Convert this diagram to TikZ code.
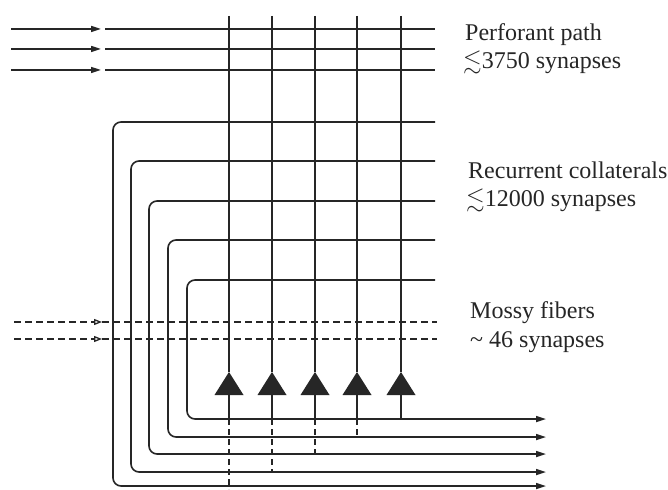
\documentclass[tikz,border=0pt]{standalone}
\usepackage{amsmath,amssymb}
\usepackage{fontspec}
\setmainfont{Liberation Serif}
\usetikzlibrary{arrows.meta,calc}
\definecolor{ink}{HTML}{262626}
\begin{document}
\begin{tikzpicture}[x=1pt,y=-1pt,
  fiber/.style={draw=ink,line width=1.6pt},
  dend/.style={draw=ink,line width=2.8pt},
  mossy/.style={draw=ink,line width=2pt,dash pattern=on 7pt off 4pt},
  axon/.style={draw=ink,line width=1.4pt},
  lab/.style={font=\fontsize{24}{29}\selectfont,anchor=base west,inner sep=0pt,text=ink},
  tip/.style={-{Triangle[length=10pt,width=6pt]}},
  opentip/.style={-{Triangle[open,length=8pt,width=6pt,line width=1.3pt]}}]
\useasboundingbox (0,0) rectangle (668,489);
\fill[white] (0,0) rectangle (668,489);

% perforant path
\foreach \y [count=\i] in {29,49,70}{
  \coordinate (pa\i) at (11,\y);
  \coordinate (pb\i) at (101,\y);
  \coordinate (pc\i) at (105,\y);
  \coordinate (pd\i) at (435,\y);
  \draw[fiber,tip] (pa\i) -- (pb\i);
  \draw[fiber] (pc\i) -- (pd\i);
}

% mossy fibres
\foreach \y [count=\i] in {322,339}{
  \coordinate (ma\i) at (14,\y);
  \coordinate (mb\i) at (102,\y);
  \coordinate (md\i) at (437,\y);
  \draw[mossy,opentip] (ma\i) -- (mb\i);
  \draw[mossy] (mb\i) -- (md\i);
}

% recurrent collateral loops
\foreach \yt/\xv/\yb [count=\i] in {122/113/486,161/131/472,201/149/454,240/168/437,280/187/419}{
  \coordinate (rt\i) at (435,\yt);
  \coordinate (rc\i) at (\xv,\yt);
  \coordinate (rd\i) at (\xv,\yb);
  \coordinate (ro\i) at (546,\yb);
  \draw[fiber,rounded corners=8pt,tip] (rt\i) -- (rc\i) -- (rd\i) -- (ro\i);
}

% pyramidal cells
\foreach \x/\yb [count=\i] in {229/489,272/472,315/454,357/437,401/419}{
  \coordinate (dt\i) at (\x,16);
  \coordinate (ap\i) at (\x,372);
  \coordinate (bs\i) at (\x,395);
  \coordinate (ax\i) at (\x,419);
  \coordinate (ae\i) at (\x,\yb);
  \draw[dend] (dt\i) -- (ap\i);
  \fill[ink] ($(bs\i)+(-14.5,0)$) -- (ap\i) -- ($(bs\i)+(14.5,0)$) -- cycle;
  \draw[axon] (bs\i) -- (ax\i);
  \ifnum\i<5 \draw[axon,dash pattern=on 6pt off 4pt] (ax\i) -- (ae\i); \fi
}

% labels
\node[lab] (l1) at (465,41) {Perforant path};
\node[lab] (l2) at (463,69) {$\lesssim$3750 synapses};
\node[lab] (l3) at (468,178) {Recurrent collaterals};
\node[lab] (l4) at (466,206) {$\lesssim$12000 synapses};
\node[lab] (l5) at (470,318) {Mossy fibers};
\node[lab] (l6) at (470,347) {\textasciitilde\ 46 synapses};
\end{tikzpicture}
\end{document}
